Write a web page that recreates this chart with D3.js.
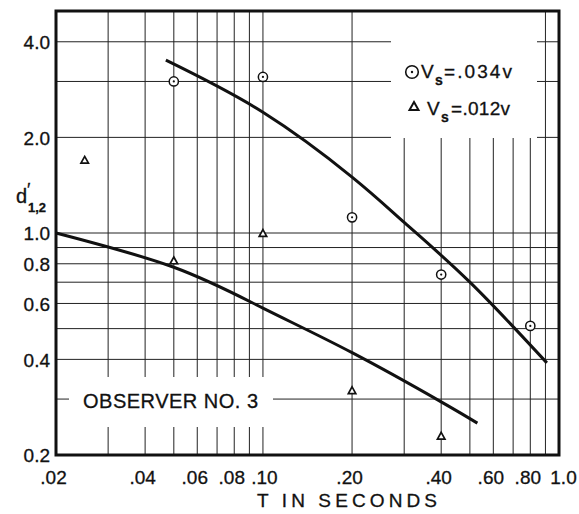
<!DOCTYPE html>
<html>
<head>
<meta charset="utf-8">
<script src="https://cdn.jsdelivr.net/npm/d3@7"></script>
<style>
  html, body { margin: 0; padding: 0; background: #fff; }
  svg { display: block; font-family: "Liberation Sans", Arial, sans-serif; }
  text { stroke: #111; stroke-width: 0.3px; }
</style>
</head>
<body>
<svg id="chart" width="579" height="514"></svg>
<script>
// ---- data ----
const xTickValues = [0.02, 0.04, 0.06, 0.08, 0.10, 0.20, 0.40, 0.60, 0.80, 1.0];
const xTickLabels = [".02", ".04", ".06", ".08", ".10", ".20", ".40", ".60", ".80", "1.0"];
const yTickValues = [0.2, 0.4, 0.6, 0.8, 1.0, 2.0, 4.0];
const yTickLabels = ["0.2", "0.4", "0.6", "0.8", "1.0", "2.0", "4.0"];
const xGridValues = [0.03, 0.04, 0.05, 0.06, 0.07, 0.08, 0.09, 0.1, 0.2, 0.3, 0.4, 0.5, 0.6, 0.7, 0.8, 0.9];
const yGridValues = [0.3, 0.4, 0.5, 0.6, 0.7, 0.8, 0.9, 1.0, 2.0, 3.0, 4.0];

// circles: Vs = .034v
const circleT = [0.05, 0.10, 0.20, 0.40, 0.80];
const circleD = [3.0, 3.1, 1.12, 0.74, 0.51];
// triangles: Vs = .012v
const triT = [0.025, 0.05, 0.10, 0.20, 0.40];
const triD = [1.7, 0.82, 1.0, 0.32, 0.23];

// fitted curves
const upperT = [0.047, 0.10, 0.20, 0.30, 0.50, 0.91];
const upperD = [3.5, 2.4, 1.5, 1.08, 0.70, 0.39];
const lowerT = [0.02, 0.05, 0.10, 0.20, 0.40, 0.53];
const lowerD = [1.0, 0.78, 0.58, 0.42, 0.294, 0.252];

// ---- layout ----
const plot = { left: 56, right: 559, top: 11, bottom: 455 };
const svg = d3.select("#chart");

const x = d3.scaleLog().domain([0.02, 1.0]).range([plot.left, plot.right]);
const y = d3.scaleLog().domain([0.2, 5.0]).range([plot.bottom, plot.top]);

const ink = "#111";

// grid
const grid = svg.append("g").attr("stroke", "#222").attr("stroke-width", 1);
grid.selectAll("line.v").data(xGridValues).join("line")
  .attr("class", "v")
  .attr("x1", d => x(d)).attr("x2", d => x(d))
  .attr("y1", plot.top).attr("y2", plot.bottom);
grid.selectAll("line.h").data(yGridValues).join("line")
  .attr("class", "h")
  .attr("x1", plot.left).attr("x2", plot.right)
  .attr("y1", d => y(d)).attr("y2", d => y(d));

// white boxes (legend and observer label)
svg.append("rect").attr("x", 391).attr("y", plot.top + 1).attr("width", 146).attr("height", 126)
  .attr("fill", "#fff");
svg.append("rect").attr("x", 69).attr("y", 377).attr("width", 204).attr("height", 50)
  .attr("fill", "#fff");

// curves
const line = d3.line().x(d => x(d[0])).y(d => y(d[1])).curve(d3.curveNatural);
svg.append("path").datum(upperT.map((t, i) => [t, upperD[i]]))
  .attr("d", line).attr("fill", "none").attr("stroke", ink).attr("stroke-width", 3);
svg.append("path").datum(lowerT.map((t, i) => [t, lowerD[i]]))
  .attr("d", line).attr("fill", "none").attr("stroke", ink).attr("stroke-width", 3);

// frame
svg.append("rect").attr("x", plot.left).attr("y", plot.top)
  .attr("width", plot.right - plot.left).attr("height", plot.bottom - plot.top)
  .attr("fill", "none").attr("stroke", ink).attr("stroke-width", 3);

// markers
function triPath(cx, cy, s) {
  const h = s * 0.9;
  return `M${cx},${cy - h / 2}L${cx + s / 2},${cy + h / 2}L${cx - s / 2},${cy + h / 2}Z`;
}
const circPts = circleT.map((t, i) => [t, circleD[i]]);
const circG = svg.append("g");
circG.selectAll("circle.o").data(circPts).join("circle")
  .attr("class", "o")
  .attr("cx", d => x(d[0])).attr("cy", d => y(d[1])).attr("r", 4.6)
  .attr("fill", "#fff").attr("stroke", ink).attr("stroke-width", 1.5);
circG.selectAll("circle.dot").data(circPts).join("circle")
  .attr("class", "dot")
  .attr("cx", d => x(d[0])).attr("cy", d => y(d[1])).attr("r", 1.1)
  .attr("fill", ink);
svg.append("g").selectAll("path").data(triT.map((t, i) => [t, triD[i]])).join("path")
  .attr("d", d => triPath(x(d[0]), y(d[1]), 7.5))
  .attr("fill", "#fff").attr("stroke", ink).attr("stroke-width", 1.7)
  .attr("stroke-linejoin", "miter");

// axis tick labels
const xAxis = d3.axisBottom(x).tickValues(xTickValues)
  .tickFormat((d, i) => xTickLabels[i]).tickSize(0).tickPadding(0);
const gx = svg.append("g").attr("transform", `translate(0,${plot.bottom})`).call(xAxis);
gx.select(".domain").remove();
gx.selectAll("text").attr("font-size", 19).attr("fill", ink)
  .attr("font-family", "Liberation Sans, Arial, sans-serif")
  .attr("dy", null).attr("y", 29)
  .attr("dx", d => (d === 1.0 ? 4 : d === 0.1 ? 1 : -3));

const yAxis = d3.axisLeft(y).tickValues(yTickValues)
  .tickFormat((d, i) => yTickLabels[i]).tickSize(0).tickPadding(6);
const gy = svg.append("g").attr("transform", `translate(${plot.left},0)`).call(yAxis);
gy.select(".domain").remove();
gy.selectAll("text").attr("font-size", 19).attr("fill", ink)
  .attr("font-family", "Liberation Sans, Arial, sans-serif")
  .attr("dy", "0.36em");

// axis titles
svg.append("text").attr("x", 257).attr("y", 507).attr("font-size", 19).attr("fill", ink)
  .attr("textLength", 180).attr("lengthAdjust", "spacing").text("T IN SECONDS");

svg.append("text").attr("x", 16).attr("y", 203).attr("font-size", 20).attr("fill", ink).text("d");
svg.append("text").attr("x", 27).attr("y", 196).attr("font-size", 18).attr("fill", ink).text("′");
svg.append("text").attr("x", 28).attr("y", 212).attr("font-size", 13).attr("font-weight", "bold")
  .attr("fill", ink).text("1,2");

// observer label
svg.append("text").attr("x", 83).attr("y", 408).attr("font-size", 20).attr("fill", ink)
  .attr("textLength", 175).attr("lengthAdjust", "spacing").text("OBSERVER NO. 3");

// legend
svg.append("circle").attr("cx", 412).attr("cy", 72).attr("r", 6.3)
  .attr("fill", "#fff").attr("stroke", ink).attr("stroke-width", 1.6);
svg.append("circle").attr("cx", 412).attr("cy", 72).attr("r", 1.2).attr("fill", ink);
svg.append("path").attr("d", triPath(414, 106, 9))
  .attr("fill", "#fff").attr("stroke", ink).attr("stroke-width", 2);

const legendRows = [
  { vx: 421, sx: 435, ex: 444, base: 78, len: 68, label: "=.034v" },
  { vx: 427, sx: 441, ex: 451, base: 115, len: 59, label: "=.012v" }
];
legendRows.forEach(r => {
  svg.append("text").attr("x", r.vx).attr("y", r.base).attr("font-size", 19).attr("fill", ink).text("V");
  svg.append("text").attr("x", r.sx).attr("y", r.base + 7).attr("font-size", 14).attr("font-weight", "bold")
    .attr("fill", ink).text("s");
  svg.append("text").attr("x", r.ex).attr("y", r.base).attr("font-size", 19).attr("fill", ink)
    .attr("textLength", r.len).attr("lengthAdjust", "spacing").text(r.label);
});
</script>
</body>
</html>
